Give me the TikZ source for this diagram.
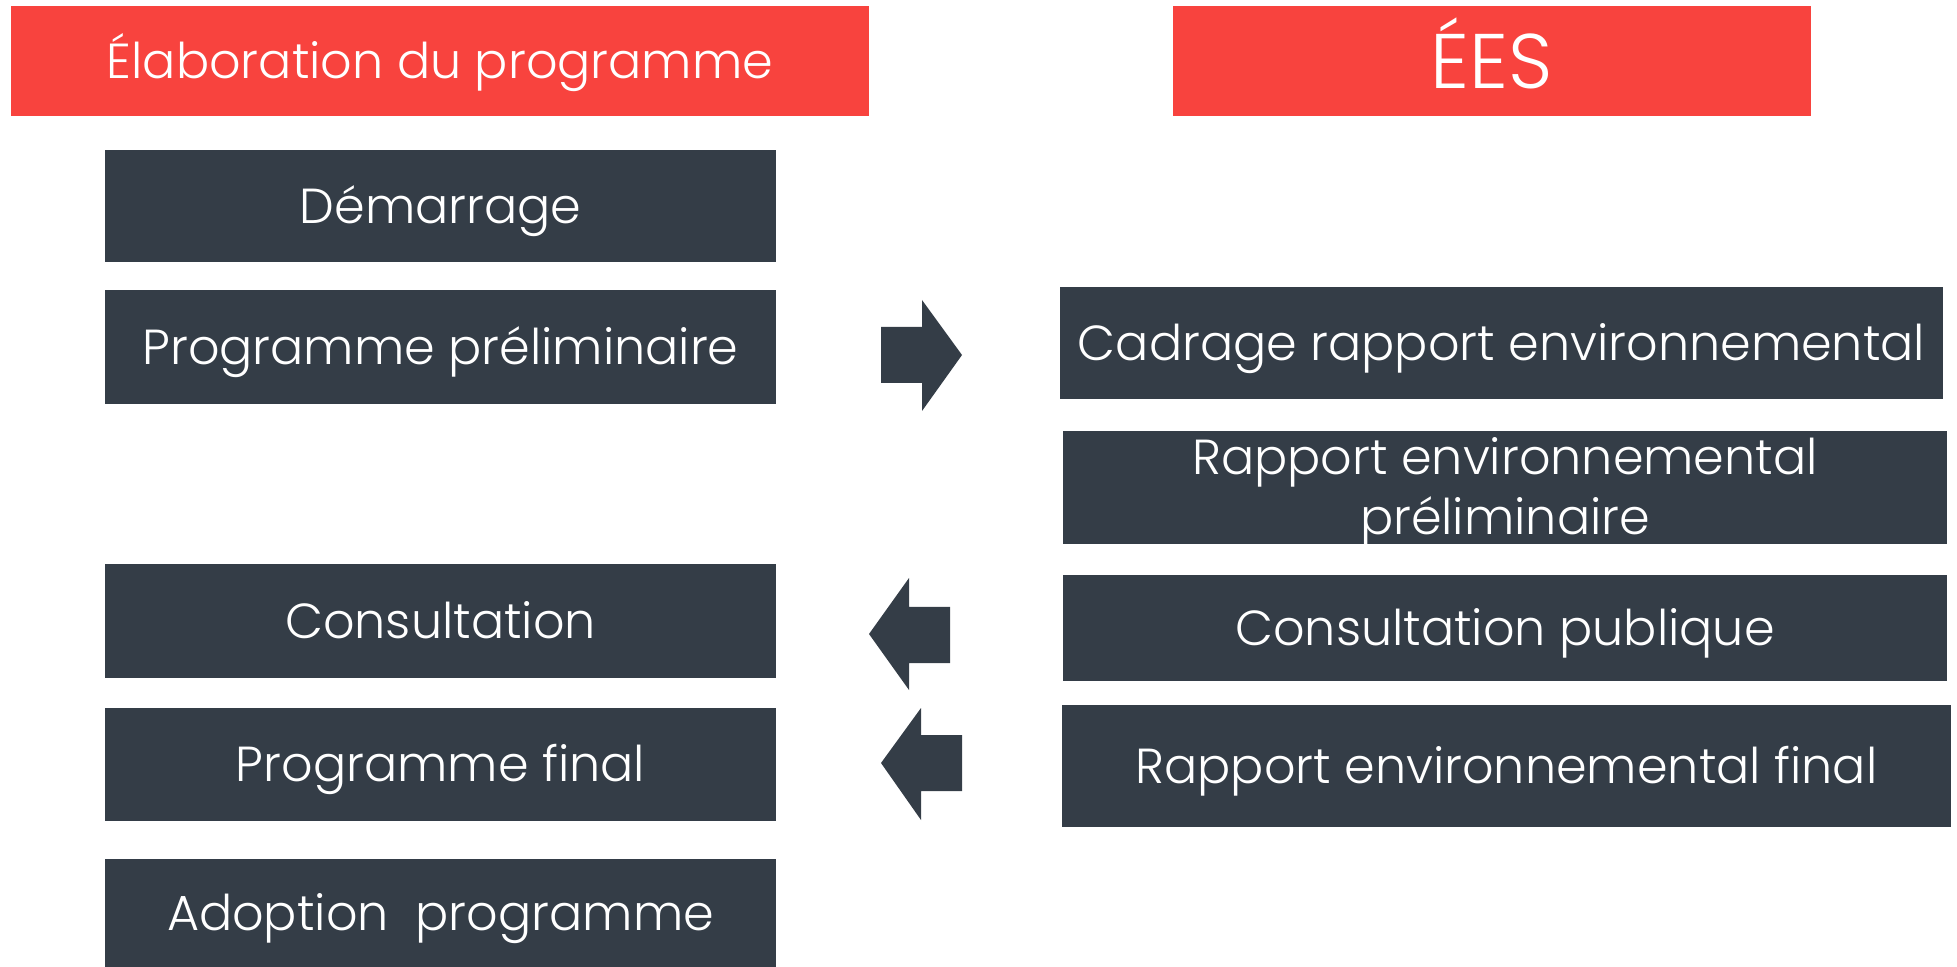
\documentclass[tikz,border=0pt]{standalone}
\usepackage{fontspec}
\setmainfont{Poppins}[UprightFont={* Light}]
\usetikzlibrary{positioning}

\definecolor{hdrred}{HTML}{F8433E}
\definecolor{boxdark}{HTML}{343D47}

\tikzset{
  hdr/.style={fill=hdrred, text=white, inner sep=0pt, text height=9.8pt, text depth=0pt,
    font=\fontsize{14}{17}\selectfont},
  stepbox/.style={fill=boxdark, text=white, inner sep=0pt, align=center,
    text height=9.8pt, text depth=0pt, font=\fontsize{14}{17}\selectfont},
  blockarrow/.style={fill=boxdark}
}

\begin{document}
\begin{tikzpicture}[x=0.01cm, y=-0.01cm]
  \useasboundingbox (0,0) rectangle (1957,967);

  % headers
  \node[hdr, minimum width=8.58cm, minimum height=1.1cm] (prog) at (440,61) {Élaboration du programme};
  \node[hdr, minimum width=6.38cm, minimum height=1.1cm, text height=15.4pt,
    font=\fontsize{22}{26}\selectfont] (ees) at (1492,61) {ÉES};

  % programme steps
  \node[stepbox, minimum width=6.71cm, minimum height=1.12cm] (demar) at (440.5,206) {Démarrage};
  \node[stepbox, minimum width=6.71cm, minimum height=1.14cm] (prelim) at (440.5,347) {Programme préliminaire};
  \node[stepbox, minimum width=6.71cm, minimum height=1.14cm] (consult) at (440.5,621) {Consultation};
  \node[stepbox, minimum width=6.71cm, minimum height=1.13cm] (final) at (440.5,764.5) {Programme final};
  \node[stepbox, minimum width=6.71cm, minimum height=1.08cm] (adopt) at (440.5,913) {Adoption\ \ programme};

  % EES steps
  \node[stepbox, minimum width=8.83cm, minimum height=1.12cm] (cadrage) at (1501.5,343) {Cadrage rapport environnemental};
  \node[stepbox, minimum width=8.84cm, minimum height=1.13cm, text height=26.8pt] (rprelim) at (1505,487.5) {Rapport environnemental\\préliminaire};
  \node[stepbox, minimum width=8.84cm, minimum height=1.06cm] (cpub) at (1505,628) {Consultation publique};
  \node[stepbox, minimum width=8.89cm, minimum height=1.22cm] (rfinal) at (1506.5,766) {Rapport environnemental final};

  % block arrows
  \fill[blockarrow] (881,327) -- (922,327) -- (922,300) -- (962,355) -- (922,411) -- (922,383) -- (881,383) -- cycle;
  \fill[blockarrow] (950,607) -- (909,607) -- (909,578) -- (869,634) -- (909,690) -- (909,663) -- (950,663) -- cycle;
  \fill[blockarrow] (962,735) -- (921,735) -- (921,708) -- (881,763) -- (921,820) -- (921,791) -- (962,791) -- cycle;
\end{tikzpicture}
\end{document}
